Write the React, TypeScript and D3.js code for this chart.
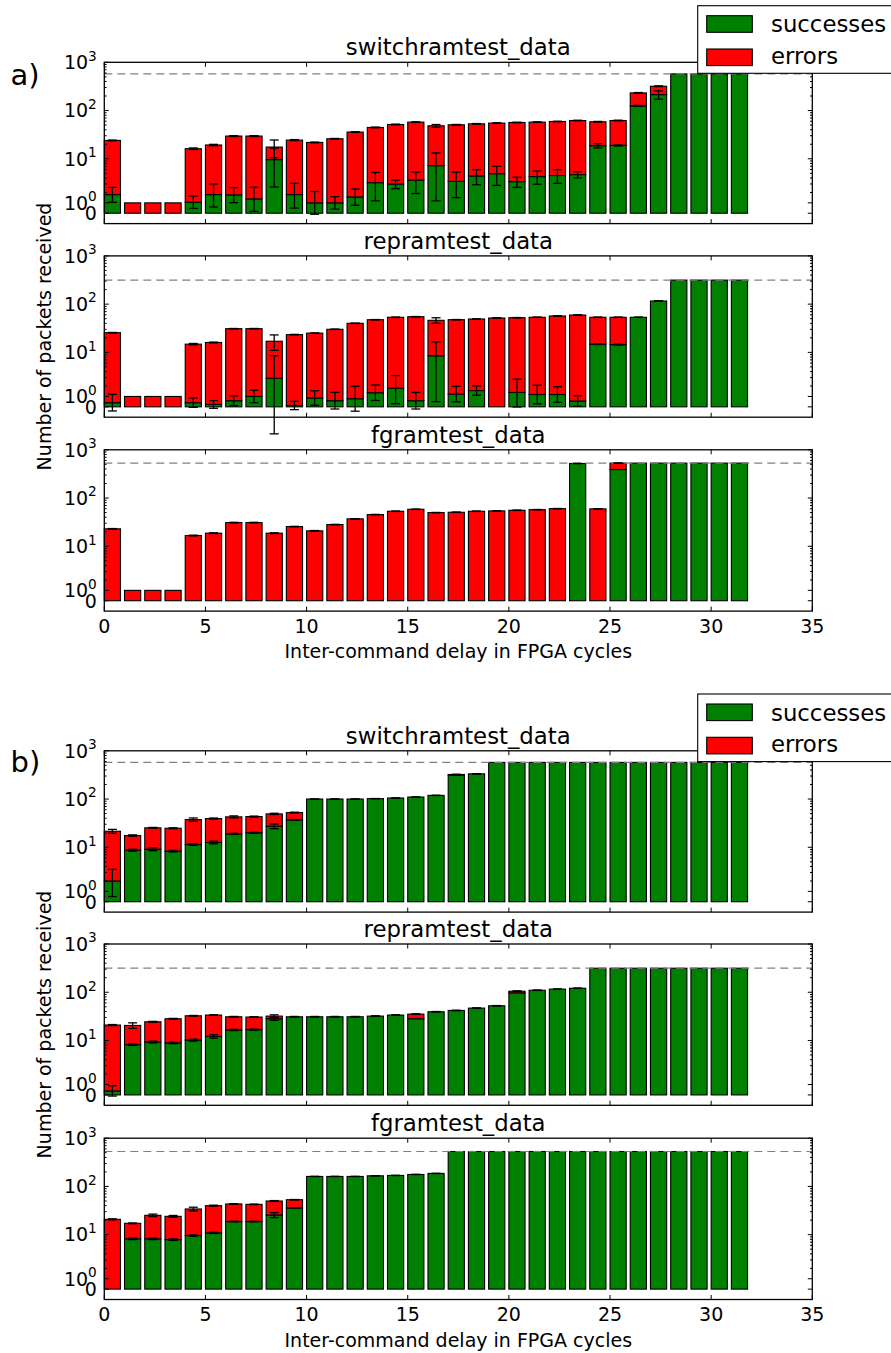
import React from 'react';
import * as d3 from 'd3';

// Inter-command delay (FPGA cycles) for each bar
const delays = [0, 1, 2, 3, 4, 5, 6, 7, 8, 9, 10, 11, 12, 13, 14, 15, 16, 17, 18, 19, 20, 21, 22, 23, 24, 25, 26, 27, 28, 29, 30, 31];
const xTicks = [0, 5, 10, 15, 20, 25, 30, 35];
const yMajor = [0, 1, 10, 100, 1000];
const yMinorMantissa = [2, 3, 4, 5, 6, 7, 8, 9];
const yMinorDecades = [1, 10, 100];
const legendLabels = ['successes', 'errors'];

// ---- a) switchramtest_data
const switchA_success = [1.8, 0, 0, 0, 1.06, 1.8, 1.77, 1.38, 9.6, 1.8, 1.0, 1.0, 1.57, 3.2, 3.0, 3.6, 7.2, 3.4, 4.4, 4.9, 3.35, 4.27, 4.5, 4.7, 18.7, 18.9, 125, 214, 575, 575, 575, 575];
const switchA_errors = [22.2, 1, 1, 1, 15.1, 17.5, 27.8, 28.2, 7.9, 22.6, 20.8, 25, 34.2, 41.4, 48.4, 53.9, 41.1, 47.3, 48.6, 50, 53.2, 53.2, 54.8, 57.4, 39.8, 43.2, 107, 105, 0, 0, 0, 0];
const switchA_successSd = [0.75, 0, 0, 0, 0.6, 1.2, 0.75, 1.2, 7, 1.3, 1.1, 0.6, 0.8, 2, 0.6, 1.7, 6, 1.9, 1.5, 2.1, 0.8, 1.3, 1.4, 0.7, 1.9, 0.5, 3, 42, 0, 0, 0, 0];
const switchA_totalSd = [0.4, 0, 0, 0, 0.6, 0.6, 0.6, 0.6, 7, 0.6, 0.4, 0.4, 0.6, 0.8, 0.8, 0.8, 3, 0.8, 0.8, 0.8, 0.8, 0.8, 0.8, 0.8, 1, 1, 4, 6, 0, 0, 0, 0];

// ---- a) repramtest_data
const repA_success = [0.4, 0, 0, 0, 0.4, 0.23, 0.59, 1.0, 2.9, 0.13, 0.85, 0.59, 0.78, 1.36, 1.8, 0.59, 8.5, 1.23, 1.57, 0, 1.39, 1.19, 1.19, 0.56, 14.8, 14.5, 53.4, 116, 315, 315, 315, 315];
const repA_errors = [25.2, 1, 1, 1, 14.4, 15.8, 30.4, 30, 14.1, 23.2, 24.2, 29.5, 39.3, 46.2, 51.6, 54.3, 37.7, 46.4, 47.6, 51.6, 51, 52.2, 55.6, 58.9, 38.6, 38.9, 0, 0, 0, 0, 0, 0];
const repA_successSd = [0.8, 0, 0, 0, 0.45, 0.37, 0.47, 0.6, 5.6, 0.4, 0.7, 0.8, 1.2, 0.75, 1.5, 0.8, 8, 0.75, 0.45, 0, 1.4, 0.9, 0.75, 0.5, 0.3, 0.3, 0.3, 0.5, 0, 0, 0, 0];
const repA_totalSd = [0.3, 0, 0, 0, 0.5, 0.3, 0.3, 0.3, 6, 0.3, 0.3, 0.3, 0.3, 0.4, 0.5, 0.5, 6, 0.4, 0.4, 0.4, 0.4, 0.4, 0.4, 0.4, 0.4, 0.4, 0, 1, 0, 0, 0, 0];

// ---- a) fgramtest_data
const fgA_success = [0, 0, 0, 0, 0, 0, 0, 0, 0, 0, 0, 0, 0, 0, 0, 0, 0, 0, 0, 0, 0, 0, 0, 520, 0, 390, 530, 530, 530, 530, 530, 530];
const fgA_errors = [23, 1, 1, 1, 16.7, 18.7, 31, 31, 18.7, 25.6, 20.9, 28.2, 37, 45.4, 53.2, 58.5, 49.9, 50.7, 53.2, 54.1, 55.7, 57.5, 60.3, 0, 59.6, 140, 0, 0, 0, 0, 0, 0];
const fgA_successSd = [0, 0, 0, 0, 0, 0, 0, 0, 0, 0, 0, 0, 0, 0, 0, 0, 0, 0, 0, 0, 0, 0, 0, 0, 0, 0, 0, 0, 0, 0, 0, 0];
const fgA_totalSd = [0.3, 0, 0, 0, 0.3, 0.3, 0.4, 0.4, 0.3, 0.3, 0.3, 0.3, 0.4, 0.4, 0.4, 0.4, 0.4, 0.4, 0.4, 0.4, 0.4, 0.4, 0.4, 3, 0.4, 3, 0, 0, 0, 0, 0, 0];

// ---- b) switchramtest_data
const switchB_success = [2.0, 8.7, 9.1, 8.3, 11.4, 12.6, 19.0, 20, 27.3, 37.0, 100, 100, 100, 102, 105, 110, 119, 315, 333, 575, 575, 575, 575, 575, 575, 575, 575, 575, 575, 575, 575, 575];
const switchB_errors = [19.5, 8.8, 16.2, 16.5, 26.1, 26.8, 23.7, 23.3, 21.9, 15.4, 0, 0, 0, 0, 0, 0, 0, 8, 0, 0, 0, 0, 0, 0, 0, 0, 0, 0, 0, 0, 0, 0];
const switchB_successSd = [1.5, 0.4, 0.6, 0.3, 0.4, 0.8, 0.5, 0.4, 3, 0.5, 0, 0, 0, 0, 0, 0, 0, 3, 0, 0, 0, 0, 0, 0, 0, 0, 0, 0, 0, 0, 0, 0];
const switchB_totalSd = [2, 0.6, 0.5, 0.6, 3, 1, 2, 1, 1.5, 1, 0.5, 0.5, 0.5, 0.5, 0.5, 0.5, 0.5, 4, 2, 0, 0, 0, 0, 0, 0, 0, 0, 0, 0, 0, 0, 0];

// ---- b) repramtest_data
const repB_success = [0.39, 8.2, 9.3, 8.9, 10.2, 12.2, 16.5, 16.8, 28.2, 31, 31, 31, 31, 32, 33.6, 28.2, 39.4, 41.9, 46.9, 52.4, 97, 110, 116, 121, 315, 315, 315, 315, 315, 315, 315, 315];
const repB_errors = [20.5, 12.3, 15.1, 19.3, 22.3, 21.4, 14.5, 13.8, 3.8, 0, 0, 0, 0, 0, 0, 7, 0, 0, 0, 0, 8, 0, 0, 0, 0, 0, 0, 0, 0, 0, 0, 0];
const repB_successSd = [0.5, 0.3, 0.4, 0.3, 0.5, 1, 0.5, 0.5, 2, 0, 0, 0, 0, 0, 0, 0, 0, 0, 0, 0, 0, 0, 0, 0, 0, 0, 0, 0, 0, 0, 0, 0];
const repB_totalSd = [0.5, 2.7, 0.5, 0.5, 0.5, 0.5, 0.5, 0.5, 2, 0.5, 0.5, 0.5, 0.5, 0.5, 0.5, 0.5, 0.5, 0.5, 0.5, 0.5, 2, 1, 1, 1, 0, 0, 0, 0, 0, 0, 0, 0];

// ---- b) fgramtest_data
const fgB_success = [0, 8.2, 8.2, 7.9, 9.6, 10.9, 18.7, 18.7, 25.6, 35.8, 161, 161, 161, 166, 169, 177, 186, 530, 530, 530, 530, 530, 530, 530, 530, 530, 530, 530, 530, 530, 530, 530];
const fgB_errors = [20.8, 9, 17, 16.1, 24.5, 29, 24.6, 23.8, 24.3, 17.3, 0, 0, 0, 0, 0, 0, 0, 0, 0, 0, 0, 0, 0, 0, 0, 0, 0, 0, 0, 0, 0, 0];
const fgB_successSd = [0, 0.3, 0.3, 0.3, 0.3, 0.3, 0.3, 0.3, 3, 0.3, 0, 0, 0, 0, 0, 0, 0, 0, 0, 0, 0, 0, 0, 0, 0, 0, 0, 0, 0, 0, 0, 0];
const fgB_totalSd = [0.5, 0.3, 1.5, 1, 3, 1, 0.5, 0.5, 1, 0.5, 1, 1, 1, 1, 1, 1, 1, 0, 0, 0, 0, 0, 0, 0, 0, 0, 0, 0, 0, 0, 0, 0];

// Number of packets sent per test (dashed reference line)
const sentSwitch = 575;
const sentRep = 315;
const sentFg = 530;

const FONT = 'DejaVu Sans, Verdana, sans-serif';
const GREEN = '#008000';
const RED = '#ff0000';
const LEFT = 104.3;
const RIGHT = 812.3;
const PANEL_H = 161.3;
const BAR_W = 0.8;
const TICK_FS = 19;
const LARGE_FS = 22.8;

// symmetric-log transform: linear below the threshold, logarithmic above
const LIN_THRESH = 2;
const LIN_SCALE = 0.43;
const symlog = (v: number) => {
  const a = Math.abs(v);
  return a <= LIN_THRESH ? v * LIN_SCALE : Math.sign(v) * LIN_THRESH * (LIN_SCALE + Math.log10(a / LIN_THRESH));
};

const x = d3.scaleLinear().domain([0, 35]).range([LEFT, RIGHT]);

type PanelProps = {
  top: number;
  title: string;
  success: number[];
  errors: number[];
  successSd: number[];
  totalSd: number[];
  sent: number;
  showXLabels: boolean;
};

function ErrBar({ cx, v, sd, y }: { cx: number; v: number; sd: number; y: (v: number) => number }) {
  if (!sd) return null;
  const y0 = y(v - sd);
  const y1 = y(v + sd);
  const cap = 4.5;
  return (
    <g stroke="#000" strokeWidth={1.3}>
      <line x1={cx} x2={cx} y1={y0} y2={y1} />
      <line x1={cx - cap} x2={cx + cap} y1={y0} y2={y0} />
      <line x1={cx - cap} x2={cx + cap} y1={y1} y2={y1} />
    </g>
  );
}

function YTickLabel({ v, yy }: { v: number; yy: number }) {
  const xr = LEFT - 7.5;
  if (v === 0) {
    return (
      <text x={xr} y={yy + 6.8} textAnchor="end" fontSize={TICK_FS} fontFamily={FONT}>0</text>
    );
  }
  const exp = Math.round(Math.log10(v));
  return (
    <text x={xr} y={yy + 6.8} textAnchor="end" fontSize={TICK_FS} fontFamily={FONT}>
      10
      <tspan fontSize={TICK_FS * 0.72} dy={-8.5}>{exp}</tspan>
    </text>
  );
}

function Panel({ top, title, success, errors, successSd, totalSd, sent, showXLabels }: PanelProps) {
  const bottom = top + PANEL_H;
  const ys = d3.scaleLinear().domain([symlog(-1), symlog(1000)]).range([bottom, top]);
  const y = (v: number) => ys(symlog(v));
  const minor: number[] = [];
  yMinorDecades.forEach((d) => yMinorMantissa.forEach((m) => minor.push(m * d)));

  return (
    <g>
      <text x={(LEFT + RIGHT) / 2} y={top - 7.2} textAnchor="middle" fontSize={LARGE_FS} fontFamily={FONT}>{title}</text>
      <rect x={LEFT} y={top} width={RIGHT - LEFT} height={PANEL_H} fill="#fff" />
      {delays.map((d, i) => {
        const s = success[i];
        const e = errors[i];
        const x0 = x(d);
        const w = x(d + BAR_W) - x0;
        return (
          <g key={d} stroke="#000" strokeWidth={1.1}>
            <rect x={x0} y={y(s)} width={w} height={y(0) - y(s)} fill={GREEN} />
            {e > 0 && <rect x={x0} y={y(s + e)} width={w} height={y(s) - y(s + e)} fill={RED} />}
          </g>
        );
      })}
      <line x1={LEFT} x2={RIGHT} y1={y(sent)} y2={y(sent)} stroke="#808080" strokeWidth={1.2} strokeDasharray="8,5" />
      {delays.map((d, i) => {
        const cx = x(d + BAR_W / 2);
        return (
          <g key={'e' + d}>
            <ErrBar cx={cx} v={success[i]} sd={successSd[i]} y={y} />
            <ErrBar cx={cx} v={success[i] + errors[i]} sd={totalSd[i]} y={y} />
          </g>
        );
      })}
      {/* ticks */}
      <g stroke="#000" strokeWidth={1}>
        {xTicks.map((t) => (
          <g key={'xt' + t}>
            <line x1={x(t)} x2={x(t)} y1={bottom} y2={bottom - 4.5} />
            <line x1={x(t)} x2={x(t)} y1={top} y2={top + 4.5} />
          </g>
        ))}
        {yMajor.map((v) => (
          <g key={'yt' + v}>
            <line x1={LEFT} x2={LEFT + 4.5} y1={y(v)} y2={y(v)} />
            <line x1={RIGHT} x2={RIGHT - 4.5} y1={y(v)} y2={y(v)} />
          </g>
        ))}
        {minor.map((v) => (
          <g key={'ym' + v}>
            <line x1={LEFT} x2={LEFT + 2.3} y1={y(v)} y2={y(v)} />
            <line x1={RIGHT} x2={RIGHT - 2.3} y1={y(v)} y2={y(v)} />
          </g>
        ))}
      </g>
      <rect x={LEFT} y={top} width={RIGHT - LEFT} height={PANEL_H} fill="none" stroke="#000" strokeWidth={1.3} />
      {yMajor.map((v) => (
        <YTickLabel key={'yl' + v} v={v} yy={y(v)} />
      ))}
      {showXLabels &&
        xTicks.map((t) => (
          <text key={'xl' + t} x={x(t)} y={bottom + 21.5} textAnchor="middle" fontSize={TICK_FS} fontFamily={FONT}>{t}</text>
        ))}
      {showXLabels && (
        <text x={(LEFT + RIGHT) / 2} y={bottom + 47.3} textAnchor="middle" fontSize={TICK_FS} fontFamily={FONT}>
          Inter-command delay in FPGA cycles
        </text>
      )}
    </g>
  );
}

function Legend({ top }: { top: number }) {
  const colors = [GREEN, RED];
  return (
    <g>
      <rect x={697.7} y={top} width={220} height={67.6} fill="#fff" stroke="#000" strokeWidth={1.1} />
      {legendLabels.map((lab, i) => (
        <g key={lab}>
          <rect x={706.7} y={top + 10 + i * 33.3} width={45.6} height={16.6} fill={colors[i]} stroke="#000" strokeWidth={1.1} />
          <text x={771} y={top + 26.6 + i * 31.8} fontSize={LARGE_FS} fontFamily={FONT}>{lab}</text>
        </g>
      ))}
    </g>
  );
}

type Fig = { label: string; labelY: number; tops: number[]; legendTop: number; yLabelCenter: number; sets: [string, number[], number[], number[], number[], number][] };

const figures: Fig[] = [
  {
    label: 'a)',
    labelY: 85,
    tops: [62.3, 255.9, 449.8],
    legendTop: 5.7,
    yLabelCenter: 336.5,
    sets: [
      ['switchramtest_data', switchA_success, switchA_errors, switchA_successSd, switchA_totalSd, sentSwitch],
      ['repramtest_data', repA_success, repA_errors, repA_successSd, repA_totalSd, sentRep],
      ['fgramtest_data', fgA_success, fgA_errors, fgA_successSd, fgA_totalSd, sentFg],
    ],
  },
  {
    label: 'b)',
    labelY: 771.7,
    tops: [750.8, 944, 1138.2],
    legendTop: 694,
    yLabelCenter: 1024.5,
    sets: [
      ['switchramtest_data', switchB_success, switchB_errors, switchB_successSd, switchB_totalSd, sentSwitch],
      ['repramtest_data', repB_success, repB_errors, repB_successSd, repB_totalSd, sentRep],
      ['fgramtest_data', fgB_success, fgB_errors, fgB_successSd, fgB_totalSd, sentFg],
    ],
  },
];

export default function App() {
  return (
    <svg width={891} height={1353} style={{ position: 'absolute', left: 0, top: 0, background: '#fff' }} fontFamily={FONT}>
      <rect width={891} height={1353} fill="#fff" />
      {figures.map((f) => (
        <g key={f.label}>
          {f.sets.map(([title, s, e, ssd, tsd, sent], k) => (
            <Panel key={title} top={f.tops[k]} title={title} success={s} errors={e} successSd={ssd} totalSd={tsd} sent={sent} showXLabels={k === 2} />
          ))}
          <text x={10.5} y={f.labelY} fontSize={29} fontFamily={FONT}>{f.label}</text>
          <text transform={`translate(44,${f.yLabelCenter}) rotate(-90)`} textAnchor="middle" dominantBaseline="central" fontSize={TICK_FS} fontFamily={FONT}>
            Number of packets received
          </text>
          <Legend top={f.legendTop} />
        </g>
      ))}
    </svg>
  );
}
